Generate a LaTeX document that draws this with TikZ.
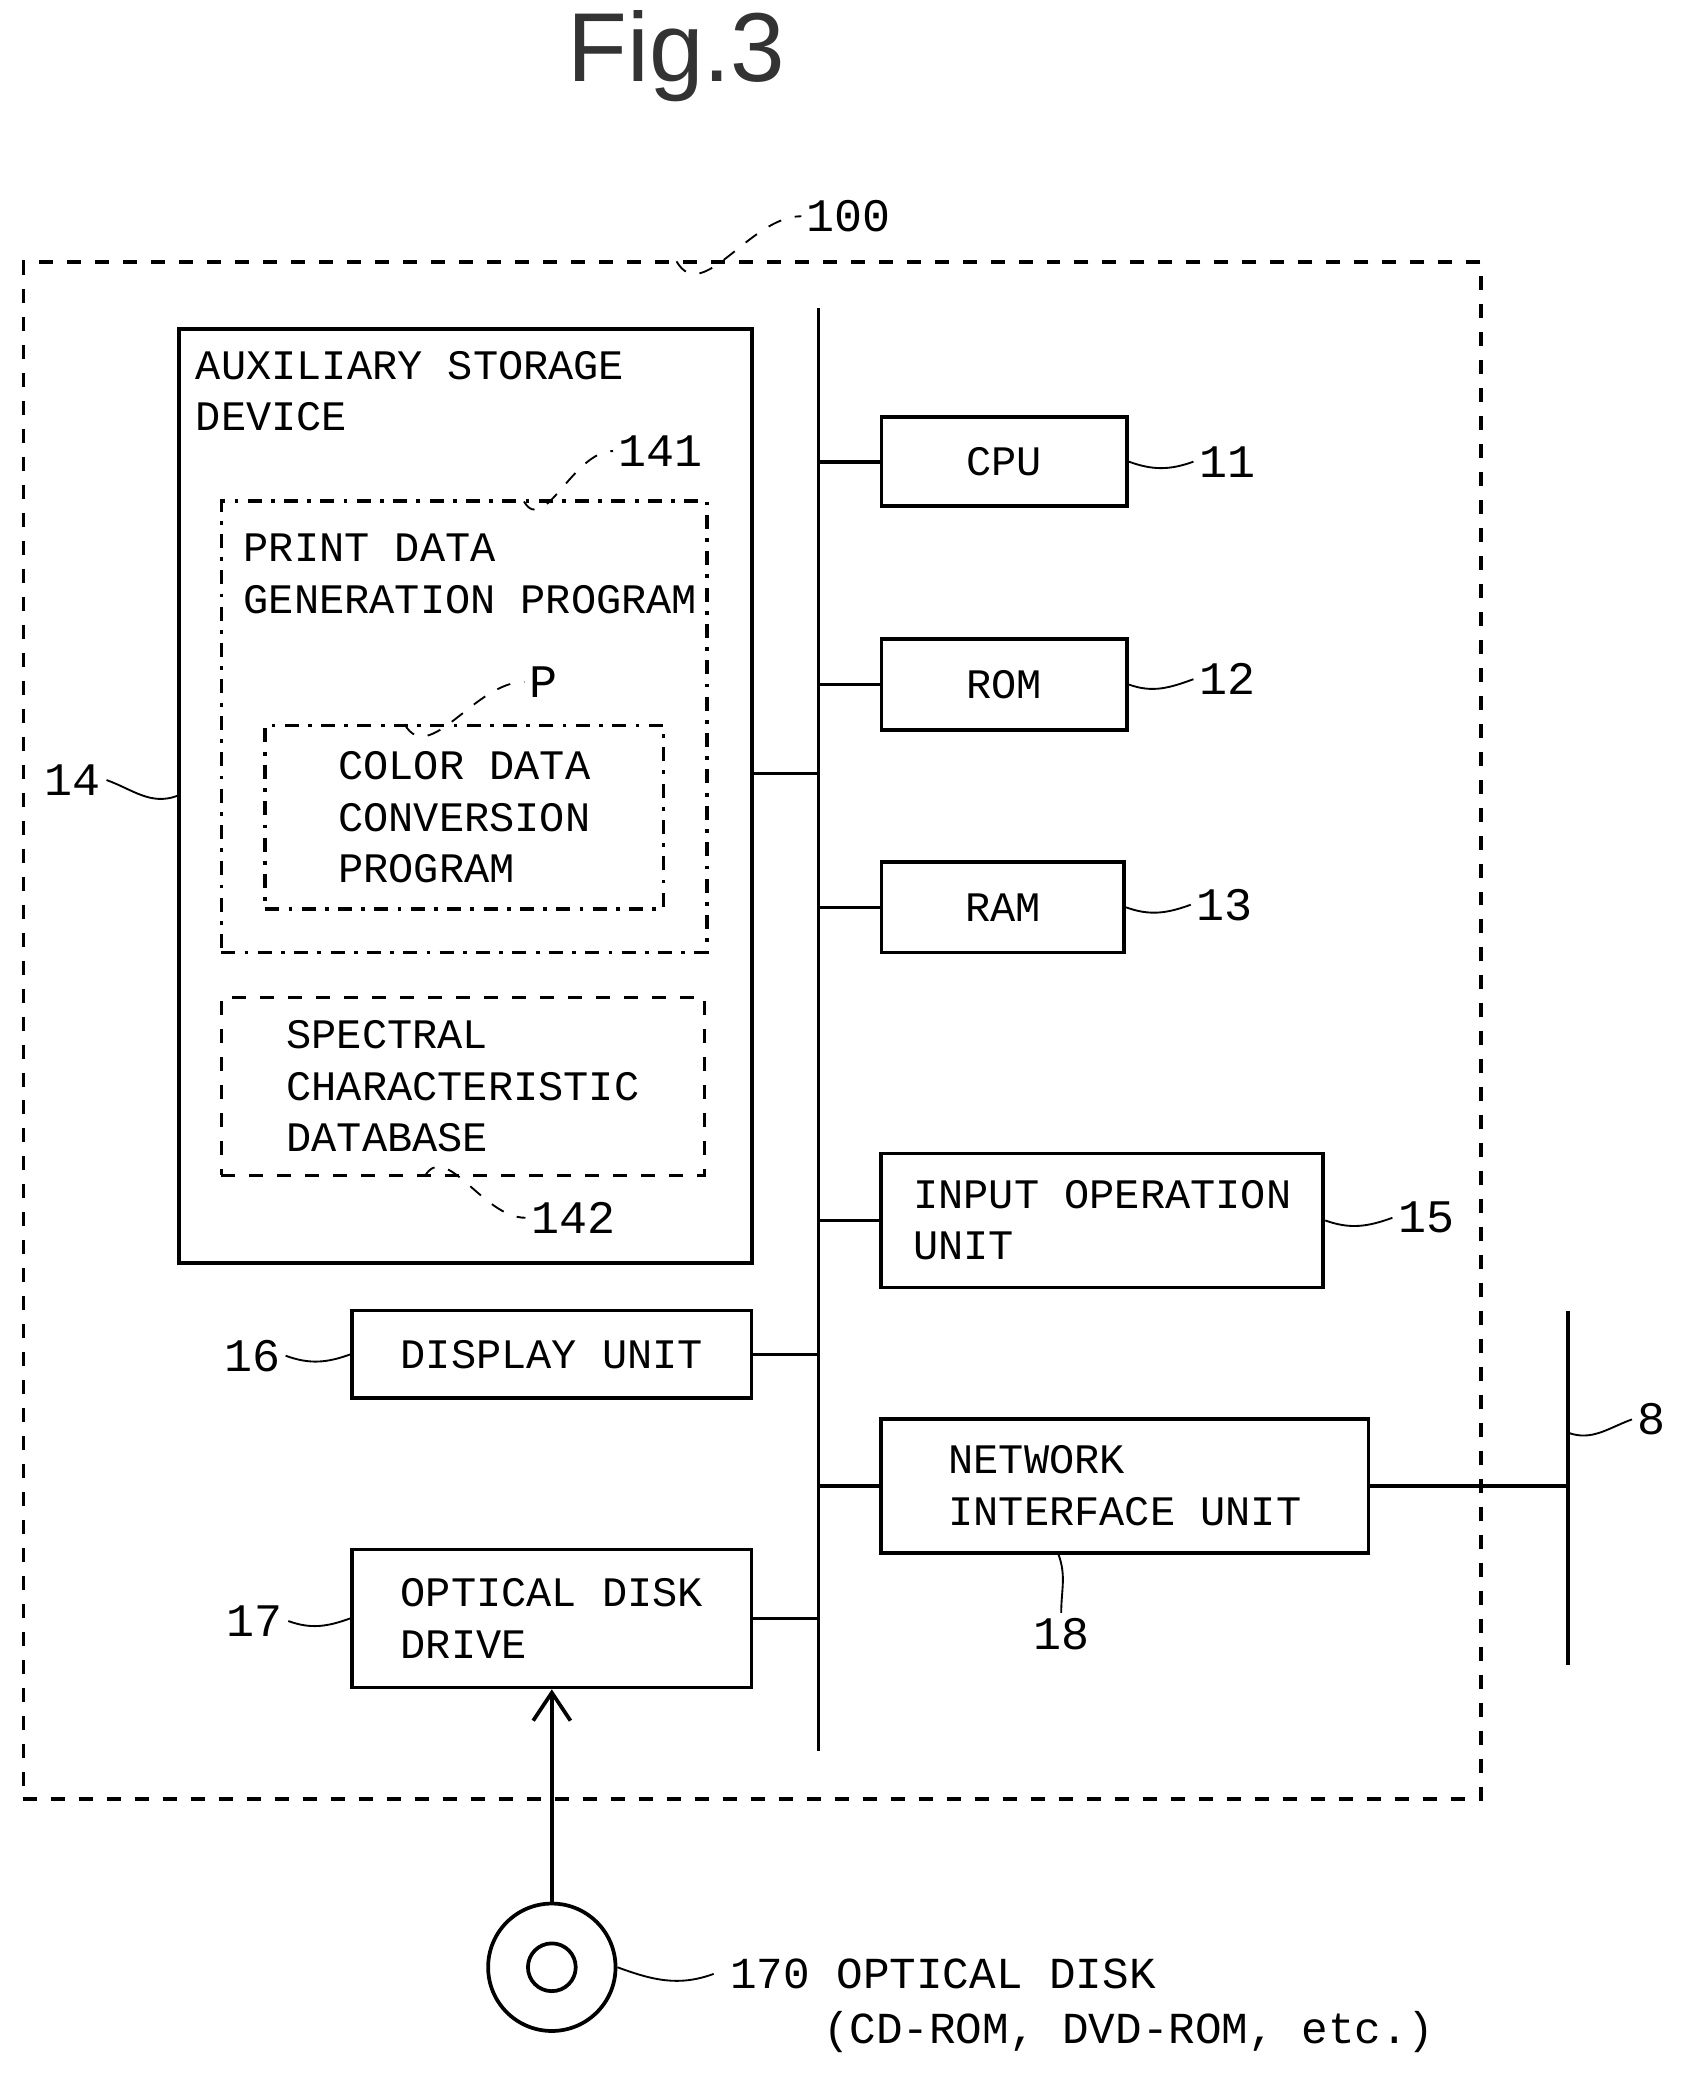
\documentclass[tikz,border=0pt]{standalone}
\usepackage{fontspec}
\setmainfont{Liberation Mono}
\setsansfont{Liberation Sans}
\usetikzlibrary{positioning,arrows.meta}
\tikzset{
  blk/.style={draw,thick,rectangle,inner sep=0pt,font=\fontsize{9}{11}\selectfont},
  dbox/.style={draw,thick,dashed,rectangle,inner sep=0pt},
  ddbox/.style={draw,thick,dash dot,rectangle,inner sep=0pt},
  lead/.style={thin},
  num/.style={font=\fontsize{10}{12}\selectfont,inner sep=1pt}
}
\begin{document}
\begin{tikzpicture}[x=0.01cm,y=-0.01cm]
\useasboundingbox (0,0) rectangle (1270,1568);
\node[font=\sffamily\fontsize{21}{24}\selectfont,text=black!80] (title) at (510,42) {Fig.3};

% outer frame and storage
\node[dbox,minimum width=10.98cm,minimum height=11.58cm] (pc) at (567,777) {};
\node[blk,minimum width=4.32cm,minimum height=7.04cm] (aux) at (351,600) {};
\node[anchor=north west,align=left,inner sep=0pt,font=\fontsize{9}{11}\selectfont] (auxt) at (147,264) {AUXILIARY STORAGE\\DEVICE};
\node[ddbox,minimum width=3.66cm,minimum height=3.40cm] (pdg) at (350,548) {};
\node[anchor=north west,align=left,inner sep=0pt,font=\fontsize{9}{11}\selectfont] (pdgt) at (183,402) {PRINT DATA\\GENERATION PROGRAM};
\node[ddbox,minimum width=3.00cm,minimum height=1.38cm,align=left,font=\fontsize{9}{11}\selectfont] (cdc) at (350,616) {COLOR DATA\\CONVERSION\\PROGRAM};
\node[dbox,minimum width=3.64cm,minimum height=1.34cm,align=left,font=\fontsize{9}{11}\selectfont] (scd) at (349,819) {SPECTRAL\\CHARACTERISTIC\\DATABASE};

% units on the bus
\node[blk,minimum width=1.85cm,minimum height=0.67cm] (cpu) at (757,348) {CPU};
\node[blk,minimum width=1.85cm,minimum height=0.69cm] (rom) at (757,516) {ROM};
\node[blk,minimum width=1.83cm,minimum height=0.68cm] (ram) at (756,684) {RAM};
\node[blk,minimum width=3.33cm,minimum height=1.01cm,align=left] (inp) at (831,920) {INPUT OPERATION\\UNIT};
\node[blk,minimum width=3.01cm,minimum height=0.66cm] (disp) at (416,1021) {DISPLAY UNIT};
\node[blk,minimum width=3.67cm,minimum height=1.01cm,align=left] (nif) at (848,1120) {NETWORK\\INTERFACE UNIT};
\node[blk,minimum width=3.01cm,minimum height=1.04cm,align=left] (odd) at (416,1220) {OPTICAL DISK\\DRIVE};

\coordinate (bt) at (617,232);
\coordinate (bb) at (617,1320);
\coordinate (auxp) at (567,583);
\draw[thick] (bt) -- (bb);
\foreach \n in {cpu,rom,ram,inp,nif} \draw[thick] (\n.west) -- (\n.west -| bt);
\foreach \n in {disp,odd} \draw[thick] (\n.east) -- (\n.east -| bt);
\draw[thick] (auxp) -- (auxp -| bt);

% network
\coordinate (nt) at (1182,988);
\coordinate (nb) at (1182,1255);
\draw[thick] (nt) -- (nb);
\draw[thick] (nif.east) -- (nif.east -| nt);

% optical disk
\node[circle,draw,thick,minimum size=0.96cm] (disk) at (416,1483) {};
\node[circle,draw,thick,minimum size=0.36cm] (hole) at (416,1483) {};
\draw[thick,-{Straight Barb[length=6pt,width=8pt]}] (disk.north) -- (odd.south);
\node[anchor=west,font=\fontsize{9.5}{12}\selectfont] (dlab) at (538,1488) {170 OPTICAL DISK};
\node[anchor=west,font=\fontsize{9.5}{12}\selectfont] (dlab2) at (608,1532) {(CD-ROM, DVD-ROM, etc.)};

% labels
\node[num] (l100) at (640,163) {100};
\node[num] (l141) at (498,340) {141};
\node[num] (lp) at (410,514) {P};
\node[num] (l142) at (432,918) {142};
\node[num] (l14) at (55,588) {14};
\node[num] (l11) at (925,348) {11};
\node[num] (l12) at (925,512) {12};
\node[num] (l13) at (923,682) {13};
\node[num] (l15) at (1075,918) {15};
\node[num] (l16) at (190,1022) {16};
\node[num] (l17) at (192,1222) {17};
\node[num] (l18) at (800,1232) {18};
\node[num] (l8) at (1245,1070) {8};

\draw[lead,dashed] (510,197) to[out=-60,in=180] (l100.west);
\draw[lead,dashed] (395,378) to[out=-60,in=180] (l141.west);
\draw[lead,dashed] (305,546) to[out=-60,in=180] (lp.west);
\draw[lead,dashed] (320,887) to[out=60,in=180] (l142.west);
\draw[lead] (l14.east) to[out=-20,in=200] (aux.west);
\draw[lead] (cpu.east) to[out=-20,in=200] (l11.west);
\draw[lead] (rom.east) to[out=-20,in=200] (l12.west);
\draw[lead] (ram.east) to[out=-20,in=200] (l13.west);
\draw[lead] (inp.east) to[out=-20,in=200] (l15.west);
\draw[lead] (l16.east) to[out=-20,in=200] (disp.west);
\draw[lead] (l17.east) to[out=-20,in=200] (odd.west);
\draw[lead] (nif.south) ++(-50,0) to[out=-70,in=90] (l18.north);
\draw[lead] (1182,1080) to[out=-20,in=200] (l8.west);
\draw[lead] (disk.east) to[out=-20,in=200] (dlab.west);
\end{tikzpicture}
\end{document}
